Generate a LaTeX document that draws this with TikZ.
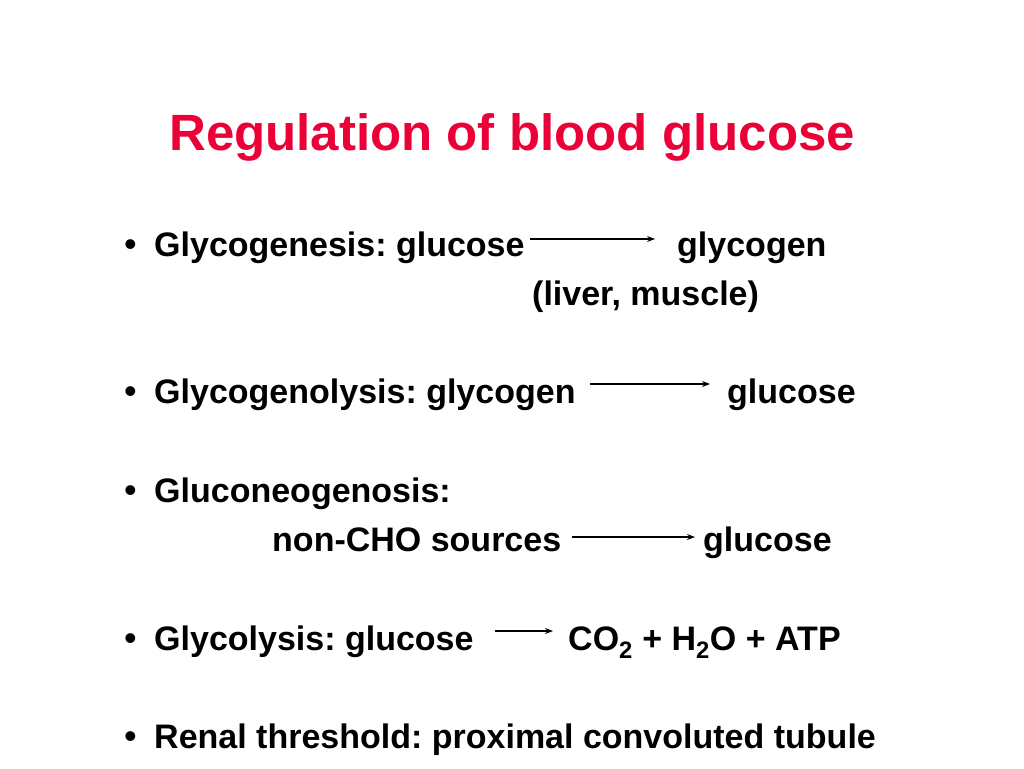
\documentclass[tikz,border=0pt]{standalone}
\usepackage{fontspec}
\setmainfont{Liberation Sans}
\usepackage{tikz}
\usetikzlibrary{arrows.meta,positioning}
\definecolor{titlered}{RGB}{235,0,55}
\frenchspacing

\begin{document}
\begin{tikzpicture}[x=1pt,y=-1pt,
  every node/.style={inner sep=0pt,anchor=base west,font=\bfseries\fontsize{34}{40}\selectfont},
  ttl/.style={anchor=base,text=titlered,font=\bfseries\fontsize{51}{60}\selectfont},
  bul/.style={anchor=base west,font=\fontsize{36}{40}\selectfont},
  rx/.style={-{Stealth[length=8pt,width=6pt]},line width=1.1pt}]
  \useasboundingbox[fill=white] (0,0) rectangle (1024,768);
  \node[ttl] (title) at (512,150) {Regulation of blood glucose};
  % bullets
  \foreach \y/\n in {256/b1,403/b2,502/b3,650/b4,748/b5}
    \node[bul] (\n) at (124,\y) {•};
  \node (g1) at (154,256) {Glycogenesis: glucose};
  \node (p1) at (677,256) {glycogen};
  \node (s1) at (532,305) {(liver, muscle)};
  \node (g2) at (154,403) {Glycogenolysis: glycogen};
  \node (p2) at (727,403) {glucose};
  \node (g3) at (154,502) {Gluconeogenosis:};
  \node (g3b) at (272,551) {non-CHO sources};
  \node (p3) at (703,551) {glucose};
  \node (g4) at (154,650) {Glycolysis: glucose};
  \node (p4) at (568,650) {CO\textsubscript{2} + H\textsubscript{2}O + ATP};
  \node (g5) at (154,748) {Renal threshold: proximal convoluted tubule};
  % reactions
  \coordinate (a1) at (530,239);  \coordinate (e1) at (655,239);
  \coordinate (a2) at (590,384);  \coordinate (e2) at (710,384);
  \coordinate (a3) at (572,537);  \coordinate (e3) at (695,537);
  \coordinate (a4) at (495,631);  \coordinate (e4) at (553,631);
  \draw[rx] (a1) -- (e1);
  \draw[rx] (a2) -- (e2);
  \draw[rx] (a3) -- (e3);
  \draw[rx] (a4) -- (e4);
\end{tikzpicture}
\end{document}
